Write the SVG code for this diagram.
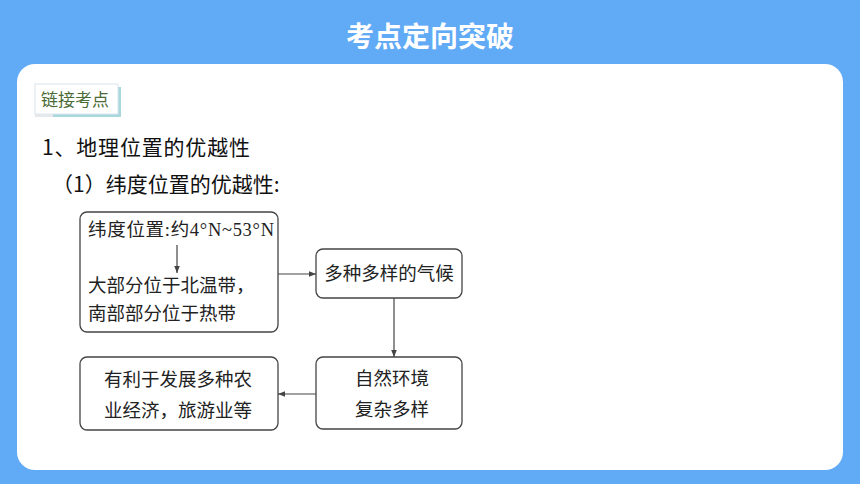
<svg xmlns="http://www.w3.org/2000/svg" width="860" height="484" viewBox="0 0 860 484">
<style>
.box{fill:#fff;stroke:#444;stroke-width:1.3}
.t{font-family:"Liberation Serif","Noto Sans CJK SC",serif;font-size:18.5px;fill:#222}
.h{font-family:"Noto Sans CJK SC",sans-serif;font-size:21px;fill:#111}
.c{stroke:#444;stroke-width:1.2;fill:none}
</style>
<defs>
<marker id="ah" viewBox="0 0 10 10" refX="10" refY="5" markerWidth="7" markerHeight="7" orient="auto" markerUnits="userSpaceOnUse">
<path d="M0,1 L10,5 L0,9 z" fill="#444"/>
</marker>
</defs>
<rect x="0" y="0" width="860" height="484" fill="#61AAF6"/>
<text x="430" y="47" text-anchor="middle" font-family="Noto Sans CJK SC,sans-serif" font-size="28" font-weight="bold" fill="#fff">考点定向突破</text>
<rect x="17" y="64" width="826" height="406" rx="18" fill="#fff"/>
<g id="tag">
<rect x="38" y="87" width="83" height="30" fill="#a8d8dc"/>
<rect x="35" y="84" width="83" height="30" fill="#fff" stroke="#d8e4ea" stroke-width="1"/>
<rect x="35" y="114" width="18" height="3" fill="#e6e9ec"/>
<text x="41" y="106" font-family="Noto Sans CJK SC,sans-serif" font-size="17" fill="#4a6a36">链接考点</text>
</g>
<text class="h" x="42" y="155" textLength="208">1、地理位置的优越性</text>
<text class="h" x="52" y="192">（1）纬度位置的优越性:</text>
<g id="n1">
<rect class="box" x="80" y="212" width="198" height="120" rx="7"/>
<text class="t" x="88" y="236" textLength="186">纬度位置:约4°N~53°N</text>
<text class="t" x="88" y="292">大部分位于北温带，</text>
<text class="t" x="88" y="320">南部部分位于热带</text>
</g>
<g id="n2">
<rect class="box" x="316" y="249" width="146" height="49" rx="7"/>
<text class="t" x="389" y="280" text-anchor="middle">多种多样的气候</text>
</g>
<g id="n3">
<rect class="box" x="316" y="357" width="146" height="72" rx="7"/>
<text class="t" x="392" y="385" text-anchor="middle">自然环境</text>
<text class="t" x="392" y="416" text-anchor="middle">复杂多样</text>
</g>
<g id="n4">
<rect class="box" x="80" y="357" width="198" height="73" rx="7"/>
<text class="t" x="178" y="386" text-anchor="middle">有利于发展多种农</text>
<text class="t" x="178" y="417" text-anchor="middle">业经济，旅游业等</text>
</g>
<g id="connectors">
<line class="c" x1="177" y1="245" x2="177" y2="273" marker-end="url(#ah)"/>
<line class="c" x1="278" y1="274" x2="316" y2="274" marker-end="url(#ah)"/>
<line class="c" x1="394" y1="298" x2="394" y2="357" marker-end="url(#ah)"/>
<line class="c" x1="316" y1="394" x2="278" y2="394" marker-end="url(#ah)"/>
</g>
</svg>
